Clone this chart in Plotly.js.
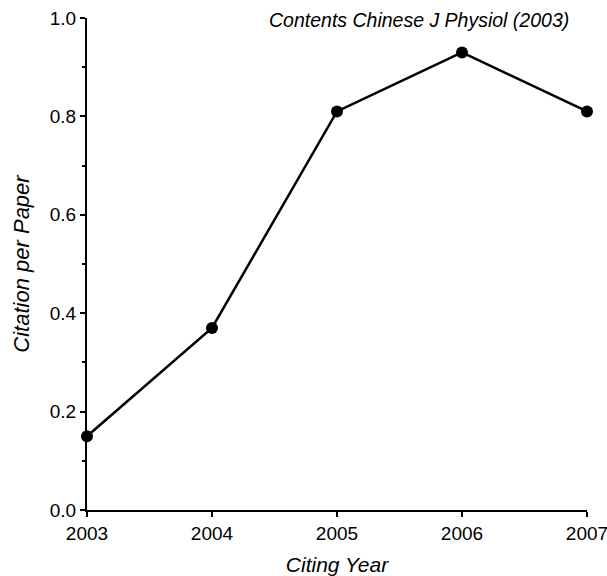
<!DOCTYPE html>
<html>
<head>
<meta charset="utf-8">
<script src="https://cdn.plot.ly/plotly-3.0.1.min.js"></script>
<style>html,body{margin:0;padding:0;background:#fff;}#chart{width:607px;height:576px;}</style>
</head>
<body>
<div id="chart"></div>
<script>
var years = [2003, 2004, 2005, 2006, 2007];
var citationPerPaper = [0.15, 0.37, 0.81, 0.93, 0.81];
var yTickVals = [0, 0.2, 0.4, 0.6, 0.8, 1.0];
var yTickText = ["0.0", "0.2", "0.4", "0.6", "0.8", "1.0"];
var chartTitle = "Contents Chinese J Physiol (2003)";
var xTitle = "Citing Year";
var yTitle = "Citation per Paper";

var font = "Liberation Sans, Arial, sans-serif";

var trace = {
  x: years,
  y: citationPerPaper,
  type: "scatter",
  mode: "lines+markers",
  line: {color: "#000", width: 2.5},
  marker: {color: "#000", size: 12},
  cliponaxis: false,
  showlegend: false
};

var layout = {
  width: 607,
  height: 576,
  margin: {l: 87, r: 20, t: 18, b: 66},
  paper_bgcolor: "#fff",
  plot_bgcolor: "#fff",
  font: {family: font, color: "#000", size: 19},
  xaxis: {
    range: [2003, 2007],
    tickvals: years,
    ticktext: years.map(String),
    showgrid: false,
    zeroline: false,
    showline: true,
    linecolor: "#000",
    linewidth: 2,
    ticks: "outside",
    ticklen: 5,
    tickwidth: 2,
    tickcolor: "#000",
    ticklabeloverflow: "allow",
    tickfont: {size: 19, family: font},
    title: {text: "<i>" + xTitle + "</i>", font: {size: 21, family: font}, standoff: 16}
  },
  yaxis: {
    range: [0, 1.0],
    tickvals: yTickVals,
    ticktext: yTickText,
    showgrid: false,
    zeroline: false,
    showline: true,
    linecolor: "#000",
    linewidth: 2,
    ticks: "outside",
    ticklen: 5,
    tickwidth: 2,
    tickcolor: "#000",
    ticklabeloverflow: "allow",
    tickfont: {size: 19, family: font},
    minor: {dtick: 0.1, ticks: "outside", ticklen: 3, tickwidth: 2, tickcolor: "#000", showgrid: false},
    title: {text: "<i>" + yTitle + "</i>", font: {size: 22, family: font}, standoff: 14}
  },
  annotations: [{
    text: "<i>" + chartTitle + "</i>",
    xref: "paper", yref: "paper",
    x: 0.664, y: 0.996,
    xanchor: "center", yanchor: "middle",
    showarrow: false,
    font: {size: 19.5, family: font, color: "#000"}
  }]
};

Plotly.newPlot("chart", [trace], layout, {displayModeBar: false, staticPlot: true});
</script>
</body>
</html>
